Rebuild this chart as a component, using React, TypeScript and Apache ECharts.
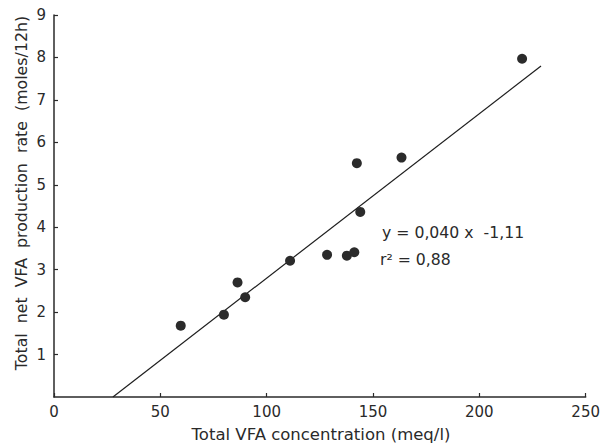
import React, { useEffect, useRef } from "react";
import * as echarts from "echarts";

const concentration = [59.6, 79.9, 86.3, 89.9, 111, 128.4, 137.7, 141.2, 144, 142.4, 163.4, 220.1];
const productionRate = [1.68, 1.94, 2.7, 2.35, 3.21, 3.35, 3.33, 3.41, 4.36, 5.51, 5.64, 7.97];
const fitLineX = [27.7, 229];
const fitLineY = [0, 7.8];
const equationText = "y = 0,040 x  -1,11";
const r2Text = "r² = 0,88";
const xTitle = "Total VFA concentration (meq/l)";
const yTitle = "Total  net  VFA  production  rate  (moles/12h)";

const FONT = "'DejaVu Sans', 'Liberation Sans', sans-serif";

export default function App() {
  const ref = useRef<HTMLDivElement>(null);
  useEffect(() => {
    if (!ref.current) return;
    const chart = echarts.init(ref.current, null, { renderer: "svg" });
    const axisColor = "#2a2a2a";
    const textColor = "#2a2a2a";
    chart.setOption({
      animation: false,
      backgroundColor: "#ffffff",
      grid: { left: 54, right: 14, top: 15, bottom: 48, containLabel: false },
      xAxis: {
        type: "value",
        min: 0,
        max: 250,
        interval: 50,
        axisLine: { show: true, lineStyle: { color: axisColor, width: 1.5 } },
        axisTick: { show: true, inside: true, length: 4, lineStyle: { color: axisColor, width: 1.2 } },
        axisLabel: { color: textColor, fontFamily: FONT, fontSize: 15, margin: 7 },
        splitLine: { show: false },
      },
      yAxis: {
        type: "value",
        min: 0,
        max: 9,
        interval: 1,
        axisLine: { show: true, lineStyle: { color: axisColor, width: 1.5 } },
        axisTick: { show: true, inside: true, length: 4, lineStyle: { color: axisColor, width: 1.2 } },
        axisLabel: { color: textColor, fontFamily: FONT, fontSize: 15, margin: 8, showMinLabel: false },
        splitLine: { show: false },
      },
      graphic: [
        {
          type: "text",
          x: 21,
          y: 193,
          rotation: Math.PI / 2,
          style: {
            text: yTitle,
            fontFamily: FONT,
            fontSize: 15.8,
            fill: textColor,
            align: "center",
            verticalAlign: "middle",
          },
        },
        {
          type: "text",
          x: 321,
          y: 434,
          style: {
            text: xTitle,
            fontFamily: FONT,
            fontSize: 16.5,
            fill: textColor,
            align: "center",
            verticalAlign: "middle",
          },
        },
        {
          type: "text",
          x: 382,
          y: 232,
          style: {
            text: equationText,
            fontFamily: FONT,
            fontSize: 15.7,
            fill: textColor,
            align: "left",
            verticalAlign: "middle",
          },
        },
        {
          type: "text",
          x: 380,
          y: 259,
          style: {
            text: r2Text,
            fontFamily: FONT,
            fontSize: 15.7,
            fill: textColor,
            align: "left",
            verticalAlign: "middle",
          },
        },
      ],
      series: [
        {
          type: "line",
          data: fitLineX.map((x, i) => [x, fitLineY[i]]),
          showSymbol: false,
          symbol: "none",
          lineStyle: { color: "#1e1e1e", width: 1.2 },
          z: 2,
        },
        {
          type: "scatter",
          data: concentration.map((x, i) => [x, productionRate[i]]),
          symbol: "circle",
          symbolSize: 10,
          itemStyle: { color: "#2b2b2b", opacity: 1 },
          z: 3,
        },
      ],
    });
    return () => chart.dispose();
  }, []);
  return <div ref={ref} style={{ width: 603, height: 445, position: "absolute", left: 0, top: 0 }} />;
}
